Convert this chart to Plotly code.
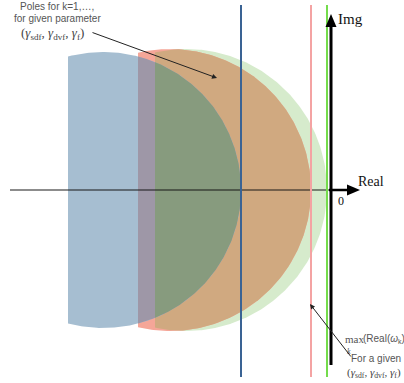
import numpy as np
import plotly.graph_objects as go

# ---------------- data (schematic pole regions, pixel-like units; origin = axes crossing)
region_names = ["blue", "red", "green"]
center_re = [-228, -161, -145]
center_im = [0, 0, 0]
radius = [138, 141, 141]
left_cut = [-263, -193, -176]
max_real = [c + r for c, r in zip(center_re, radius)]

line_colors = ["#3a6394", "#f4a3a3", "#74dc4c"]

# fill colours for each overlap combination (blue, red, green membership)
col_green_only = "#d6ebcc"
col_red_only = "#f5a698"
col_red_green = "#d0a980"
col_blue_only = "#a6bed1"
col_blue_red = "#9e97a7"
col_all = "#879b7e"

label_top = ["Poles for k=1,…,", "for given parameter"]
label_gamma = "(<i>γ</i><sub>sdf</sub>, <i>γ</i><sub>dvf</sub>, <i>γ</i><sub>f</sub>)"
label_max = "(Real(<i>ω</i><sub>k</sub>)"
label_given = "For a given"


def disk_poly(cx, cy, r, cut, n=260):
    t0 = np.arccos(np.clip((cut - cx) / r, -1, 1))
    th = np.linspace(-t0, t0, n)
    return [(cx + r * np.cos(t), cy + r * np.sin(t)) for t in th]


def clip(subject, clipper):
    out = list(subject)
    n = len(clipper)
    for i in range(n):
        if not out:
            break
        a = clipper[i]
        b = clipper[(i + 1) % n]
        if abs(a[0] - b[0]) < 1e-12 and abs(a[1] - b[1]) < 1e-12:
            continue

        def f(p):
            return (b[0] - a[0]) * (p[1] - a[1]) - (b[1] - a[1]) * (p[0] - a[0])

        inp = out
        out = []
        s = inp[-1]
        fs = f(s)
        for e in inp:
            fe = f(e)
            if fe >= 0:
                if fs < 0:
                    t = fs / (fs - fe)
                    out.append((s[0] + t * (e[0] - s[0]), s[1] + t * (e[1] - s[1])))
                out.append(e)
            elif fs >= 0:
                t = fs / (fs - fe)
                out.append((s[0] + t * (e[0] - s[0]), s[1] + t * (e[1] - s[1])))
            s, fs = e, fe
    return out


polys = {name: disk_poly(center_re[i], center_im[i], radius[i], left_cut[i])
         for i, name in enumerate(region_names)}
P_b, P_r, P_g = polys["blue"], polys["red"], polys["green"]
P_rg = clip(P_r, P_g)
P_br = clip(P_b, P_r)
P_all = clip(P_br, P_g)

fig = go.Figure()


def add_fill(poly, color):
    if len(poly) < 3:
        return
    xs = [p[0] for p in poly] + [poly[0][0]]
    ys = [p[1] for p in poly] + [poly[0][1]]
    fig.add_trace(go.Scatter(x=xs, y=ys, mode="lines", fill="toself",
                             fillcolor=color, line=dict(width=0, color=color),
                             hoverinfo="skip"))


add_fill(P_g, col_green_only)
add_fill(P_r, col_red_only)
add_fill(P_rg, col_red_green)
add_fill(P_b, col_blue_only)
add_fill(P_br, col_blue_red)
add_fill(P_all, col_all)

# real axis (thin part)
fig.add_trace(go.Scatter(x=[-321, 0], y=[0, 0], mode="lines",
                         line=dict(color="rgba(20,20,20,0.65)", width=1.5), hoverinfo="skip"))

# max-real vertical lines
for m, c in zip(max_real, line_colors):
    fig.add_trace(go.Scatter(x=[m, m], y=[185, -187], mode="lines",
                             line=dict(color=c, width=2), hoverinfo="skip"))

# axes arrows
fig.add_trace(go.Scatter(x=[-2, 17], y=[0, 0], mode="lines",
                         line=dict(color="black", width=2.5), hoverinfo="skip"))
fig.add_trace(go.Scatter(x=[16, 29, 16, 16], y=[-5.5, 0, 5.5, -5.5], mode="lines",
                         fill="toself", fillcolor="black", line=dict(width=0, color="black"),
                         hoverinfo="skip"))
fig.add_trace(go.Scatter(x=[0, 0], y=[-175, 163], mode="lines",
                         line=dict(color="black", width=3), hoverinfo="skip"))
fig.add_trace(go.Scatter(x=[-5.5, 0, 5.5, -5.5], y=[163, 176, 163, 163], mode="lines",
                         fill="toself", fillcolor="black", line=dict(width=0, color="black"),
                         hoverinfo="skip"))

sans = "Liberation Sans, Arial, sans-serif"
serif = "Liberation Serif, Times New Roman, serif"
grey = "#555555"

ann = []
ann.append(dict(x=-274, y=184, text=label_top[0], font=dict(family=sans, size=10, color=grey)))
ann.append(dict(x=-274, y=171.5, text=label_top[1], font=dict(family=sans, size=10, color=grey)))
ann.append(dict(x=-279, y=157, text=label_gamma, font=dict(family=serif, size=13, color="#444")))
ann.append(dict(x=19, y=171, text="Img", xanchor="center", font=dict(family=serif, size=15, color="#111")))
ann.append(dict(x=40, y=9, text="Real", font=dict(family=serif, size=14, color="#111")))
ann.append(dict(x=10, y=-11, text="0", font=dict(family=serif, size=12, color="#111")))
ann.append(dict(x=12, y=-149, text="max", xanchor="left", font=dict(family=serif, size=11, color=grey)))
ann.append(dict(x=30, y=-149, text=label_max, xanchor="left", font=dict(family=sans, size=10, color=grey)))
ann.append(dict(x=18, y=-161, text="<i>k</i>", font=dict(family=serif, size=8, color=grey)))
ann.append(dict(x=18, y=-168, text=label_given, xanchor="left", font=dict(family=sans, size=10, color=grey)))
ann.append(dict(x=14, y=-183, text=label_gamma, xanchor="left", font=dict(family=serif, size=11, color="#444")))
for a in ann:
    a.setdefault("xanchor", "center")
    a.update(xref="x", yref="y", yanchor="middle", showarrow=False)

ann.append(dict(x=-114, y=112, ax=-240, ay=158, axref="x", ayref="y", xref="x", yref="y",
                text="", showarrow=True, arrowhead=2, arrowsize=1, arrowwidth=1, arrowcolor="#222"))
ann.append(dict(x=-21, y=-114, ax=21, ay=-168, axref="x", ayref="y", xref="x", yref="y",
                text="", showarrow=True, arrowhead=2, arrowsize=1, arrowwidth=1, arrowcolor="#222"))

fig.update_layout(
    width=404, height=383,
    margin=dict(l=0, r=0, t=0, b=0),
    paper_bgcolor="white", plot_bgcolor="white",
    showlegend=False,
    xaxis=dict(range=[-331, 73], visible=False, fixedrange=True),
    yaxis=dict(range=[-193, 190], visible=False, fixedrange=True),
    annotations=ann,
)

fig.write_html("out.html", config={"displayModeBar": False},
               post_script="document.body.style.margin='0';")
